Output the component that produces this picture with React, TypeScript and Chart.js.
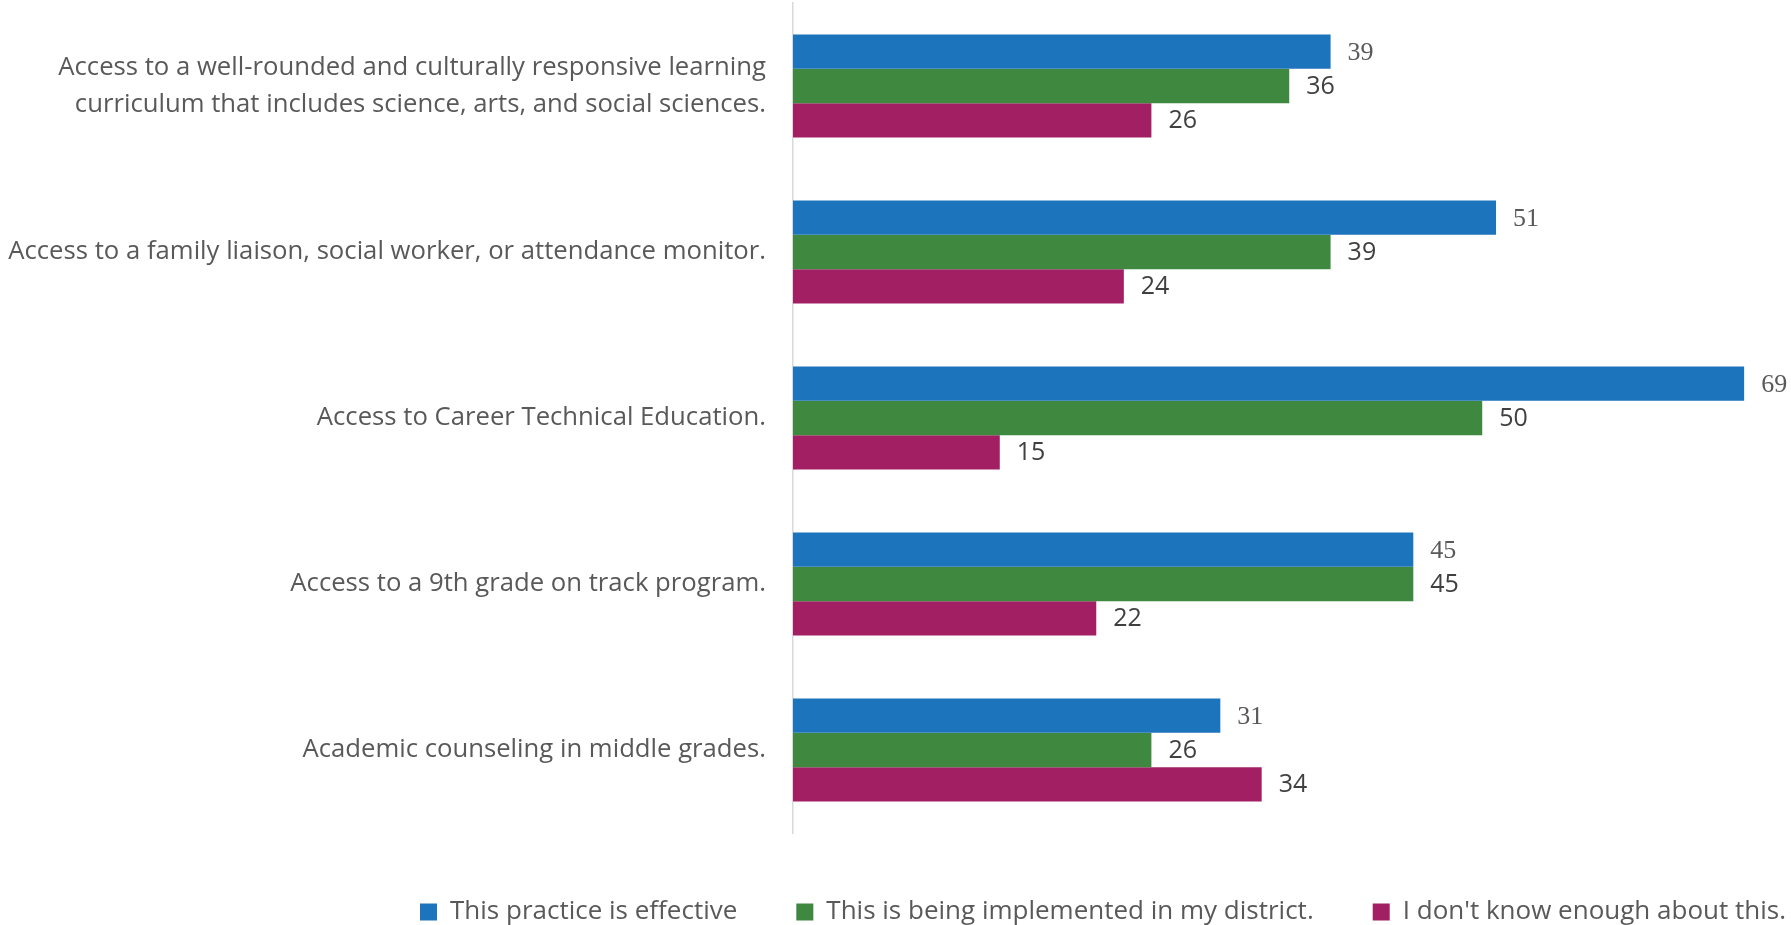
import React, { useEffect, useRef } from "react";
import { Chart, registerables } from "chart.js";

Chart.register(...registerables);

const categories: (string | string[])[] = [
  [
    "Access to a well-rounded and culturally responsive learning",
    "curriculum that includes science, arts, and social sciences.",
  ],
  "Access to a family liaison, social worker, or attendance monitor.",
  "Access to Career Technical Education.",
  "Access to a 9th grade on track program.",
  "Academic counseling in middle grades.",
];

const seriesNames = [
  "This practice is effective",
  "This is being implemented in my district.",
  "I don't know enough about this.",
];

const effective = [39, 51, 69, 45, 31];
const implemented = [36, 39, 50, 45, 26];
const dontKnow = [26, 24, 15, 22, 34];

const colors = ["#1c75bc", "#3f883f", "#a11f62"];

const valueLabelsPlugin = {
  id: "valueLabels",
  afterDatasetsDraw(chart: any) {
    const ctx = chart.ctx;
    ctx.save();
    chart.data.datasets.forEach((ds: any, di: number) => {
      const meta = chart.getDatasetMeta(di);
      if (meta.hidden) return;
      ctx.textAlign = "left";
      ctx.textBaseline = "middle";
      if (di === 0) {
        ctx.font = "26px 'Liberation Serif', serif";
        ctx.fillStyle = "#595959";
      } else {
        ctx.font = "25px 'Open Sans', sans-serif";
        ctx.fillStyle = "#404040";
      }
      meta.data.forEach((el: any, i: number) => {
        ctx.fillText(String(ds.data[i]), el.x + 17, el.y + 1);
      });
    });
    ctx.restore();
  },
};

export default function App() {
  const ref = useRef<HTMLCanvasElement>(null);
  useEffect(() => {
    if (!ref.current) return;
    const chart = new Chart(ref.current, {
      type: "bar",
      data: {
        labels: categories,
        datasets: [
          { label: seriesNames[0], data: effective, backgroundColor: colors[0] },
          { label: seriesNames[1], data: implemented, backgroundColor: colors[1] },
          { label: seriesNames[2], data: dontKnow, backgroundColor: colors[2] },
        ],
      },
      options: {
        indexAxis: "y",
        animation: false,
        responsive: false,
        devicePixelRatio: 1,
        layout: { padding: { top: 3, right: -54, bottom: -10, left: 0 } },
        datasets: {
          bar: { categoryPercentage: 0.62, barPercentage: 1 },
        },
        scales: {
          x: { display: false, min: 0, max: 72.4 },
          y: {
            grid: { display: false },
            border: { display: true, color: "#d9d9d9", width: 1.5 },
            ticks: {
              padding: 19,
              color: "#595959",
              font: { family: "'Open Sans', sans-serif", size: 25.7, lineHeight: 1.45 },
            },
            afterFit(scale: any) {
              scale.width = 793;
              scale.paddingTop = 0;
              scale.paddingBottom = 0;
            },
          },
        },
        plugins: {
          tooltip: { enabled: false },
          legend: {
            position: "bottom",
            align: "end",
            title: { display: true, text: "", padding: 0, font: { size: 7, lineHeight: 1 } },
            labels: {
              boxWidth: 17,
              boxHeight: 17,
              padding: 59,
              color: "#595959",
              font: { family: "'Open Sans', sans-serif", size: 26 },
            },
          },
        },
      },
      plugins: [valueLabelsPlugin],
    });
    return () => chart.destroy();
  }, []);
  return (
    <div style={{ position: "absolute", left: 0, top: 0, width: 1791, height: 925, background: "#fff" }}>
      <canvas ref={ref} width={1791} height={925} style={{ display: "block" }} />
    </div>
  );
}
